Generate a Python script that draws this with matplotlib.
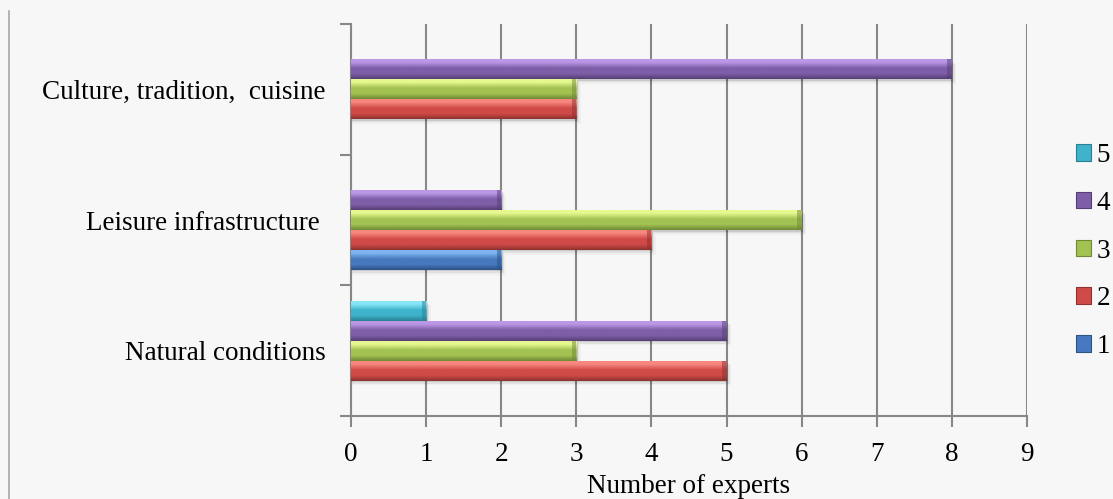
import numpy as np
import matplotlib
matplotlib.use("Agg")
import matplotlib.pyplot as plt
from matplotlib.patches import Patch, Rectangle
from matplotlib.lines import Line2D
from matplotlib.colors import to_rgb

categories = ["Natural conditions", "Leisure infrastructure ", "Culture, tradition,  cuisine"]
series_names = ["1", "2", "3", "4", "5"]
values = {
    "1": [0, 2, 0],
    "2": [5, 4, 3],
    "3": [3, 6, 3],
    "4": [5, 2, 8],
    "5": [1, 0, 0],
}
x_ticks = [0, 1, 2, 3, 4, 5, 6, 7, 8, 9]
x_label = "Number of experts"

# light / base / dark shades for the bevelled bars
shades = {
    "1": ("#7fb4ee", "#4679bf", "#2c5286"),
    "2": ("#f7877f", "#d04a47", "#8c3230"),
    "3": ("#e6f890", "#a2c252", "#6f8935"),
    "4": ("#bb98e6", "#7e5ea8", "#553f75"),
    "5": ("#86e6f7", "#3fb3cc", "#2a7f93"),
}

plt.rcParams["font.family"] = ["Liberation Serif", "DejaVu Serif"]
BG = "#f7f7f7"
GRID = "#878787"
FS = 19.5

W, H = 1113, 499
fig = plt.figure(figsize=(W / 100, H / 100), dpi=100, facecolor=BG)
ax = fig.add_axes([351 / W, 1 - 416 / H, (1027 - 351) / W, (416 - 24) / H])
ax.set_facecolor(BG)

n = len(series_names)
bar_h = 20 / 131
ax.set_xlim(0, 9)
ax.set_ylim(-0.5, len(categories) - 0.5)


def gradient_column(light, base, dark, rows=64):
    stops = [(0.0, light), (0.15, light), (0.45, base), (0.72, base), (1.0, dark)]
    pos = np.linspace(0, 1, rows)
    out = np.zeros((rows, 1, 3))
    for c in range(3):
        xs = [s[0] for s in stops]
        ys = [to_rgb(s[1])[c] for s in stops]
        out[:, 0, c] = np.interp(pos, xs, ys)
    return out


for i, name in enumerate(series_names):
    light, base, dark = shades[name]
    grad = gradient_column(light, base, dark)
    for j, v in enumerate(values[name]):
        if v <= 0:
            continue
        yc = j + (i - (n - 1) / 2) * bar_h
        y0 = yc - bar_h / 2
        # soft drop shadow below the bar
        for k, a in enumerate([0.10, 0.06, 0.03]):
            ax.add_patch(Rectangle((0, y0 - 0.012 * (k + 1)), v + 0.02 * (k + 1), bar_h,
                                   facecolor="#000000", alpha=a, edgecolor="none", zorder=2))
        bars = ax.barh(yc, v, height=bar_h, color=base, edgecolor="none", zorder=3)
        rect = bars.patches[0]
        # row 0 of the gradient (light) sits on the top edge of the bar
        im = ax.imshow(grad, extent=(0, v, y0, y0 + bar_h), aspect="auto",
                       origin="upper", zorder=4, interpolation="bilinear")
        im.set_clip_path(rect)
        # darker bevel at the bar end
        ax.add_patch(Rectangle((v - 0.06, y0), 0.06, bar_h, facecolor=dark, alpha=0.5,
                               edgecolor="none", zorder=5))

ax.set_xlim(0, 9)
ax.set_ylim(-0.5, len(categories) - 0.5)

# gridlines
ax.set_xticks(x_ticks)
ax.set_xticklabels([str(t) for t in x_ticks], fontsize=FS)
ax.xaxis.grid(True, color=GRID, linewidth=1.5, zorder=1)
ax.set_axisbelow(True)
ax.tick_params(axis="x", length=8, width=1.5, color=GRID, pad=11)

ax.set_yticks(range(len(categories)))
ax.set_yticklabels(categories, fontsize=FS)
ax.set_yticks([-0.5, 0.5, 1.5, 2.5], minor=True)
ax.tick_params(axis="y", which="major", length=0, pad=18)
ax.tick_params(axis="y", which="minor", length=8, width=1.5, color=GRID)

for s in ["top", "right"]:
    ax.spines[s].set_visible(False)
for s in ["left", "bottom"]:
    ax.spines[s].set_color(GRID)
    ax.spines[s].set_linewidth(1.5)

ax.set_xlabel(x_label, fontsize=FS, labelpad=4.5)

handles = [Patch(facecolor=shades[s][1], edgecolor=shades[s][2], linewidth=0.8)
           for s in reversed(series_names)]
fig.legend(handles, list(reversed(series_names)), loc="upper left",
           bbox_to_anchor=(1076 / W, 1 - 143 / H), frameon=False, fontsize=FS,
           handlelength=0.56, handleheight=0.56, handletextpad=0.2, labelspacing=0.84,
           borderaxespad=0, borderpad=0)

# page border line on the left
fig.add_artist(Line2D([9 / W, 9 / W], [0, 1 - 11 / H], color="#a6a6a6", linewidth=1.2))

fig.savefig("out.png", dpi=100, facecolor=BG)
